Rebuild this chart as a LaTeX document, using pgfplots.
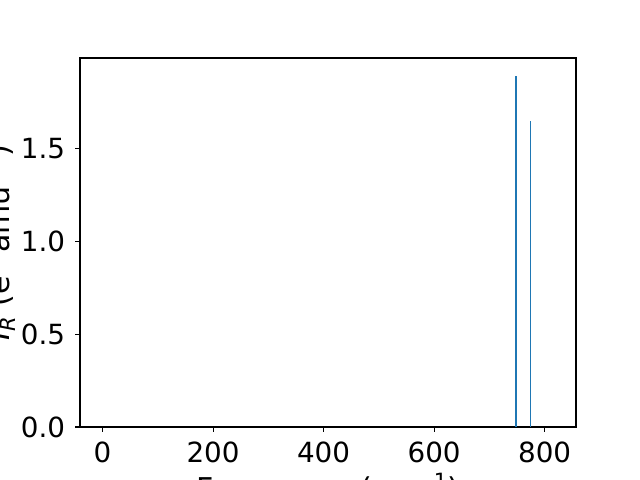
\documentclass[border=0pt]{standalone}
\usepackage{pgfplots}
\pgfplotsset{compat=1.18}
\usepackage{fontspec}
\setmainfont{DejaVu Sans}
\definecolor{c0}{HTML}{1F77B4}
\begin{document}
\fontsize{20bp}{24bp}\selectfont
\begin{tikzpicture}
\useasboundingbox (0,0) rectangle (6.4in,4.8in);
\clip (0,0) rectangle (6.4in,4.8in);
\begin{axis}[
  at={(0.8in,0.53in)}, anchor=south west,
  scale only axis, width=4.96in, height=3.69in,
  xmin=-40.8, xmax=856.8, ymin=0, ymax=1.987,
  xtick={0,200,400,600,800},
  ytick={0,0.5,1.0,1.5},
  yticklabel style={/pgf/number format/fixed,/pgf/number format/fixed zerofill,/pgf/number format/precision=1},
  /pgf/number format/assume math mode=true,
  tick align=outside, major tick length=3.5bp,
  tick style={black, line width=0.8bp},
  axis line style={line width=0.8bp},
  xtick pos=bottom, ytick pos=left,
  xticklabel style={inner sep=0pt, yshift=-7bp},
  yticklabel style={inner sep=0pt, xshift=-7bp},
  xlabel={Frequency (cm\textsuperscript{$-$1})},
  ylabel={{\itshape I}\textsubscript{\itshape R} (e\textsuperscript{2} amu\textsuperscript{$-$1})},
  xlabel style={inner sep=0pt, yshift=-7.5bp},
  ylabel style={inner sep=0pt, yshift=4bp},
  label style={font=\fontsize{21.6bp}{26bp}\selectfont},
  tick label style={font=\fontsize{20bp}{24bp}\selectfont},
]
\addplot[ycomb, no marks, color=c0, line width=1bp] coordinates {(748,1.89) (775,1.65)};
\end{axis}
\end{tikzpicture}
\end{document}
